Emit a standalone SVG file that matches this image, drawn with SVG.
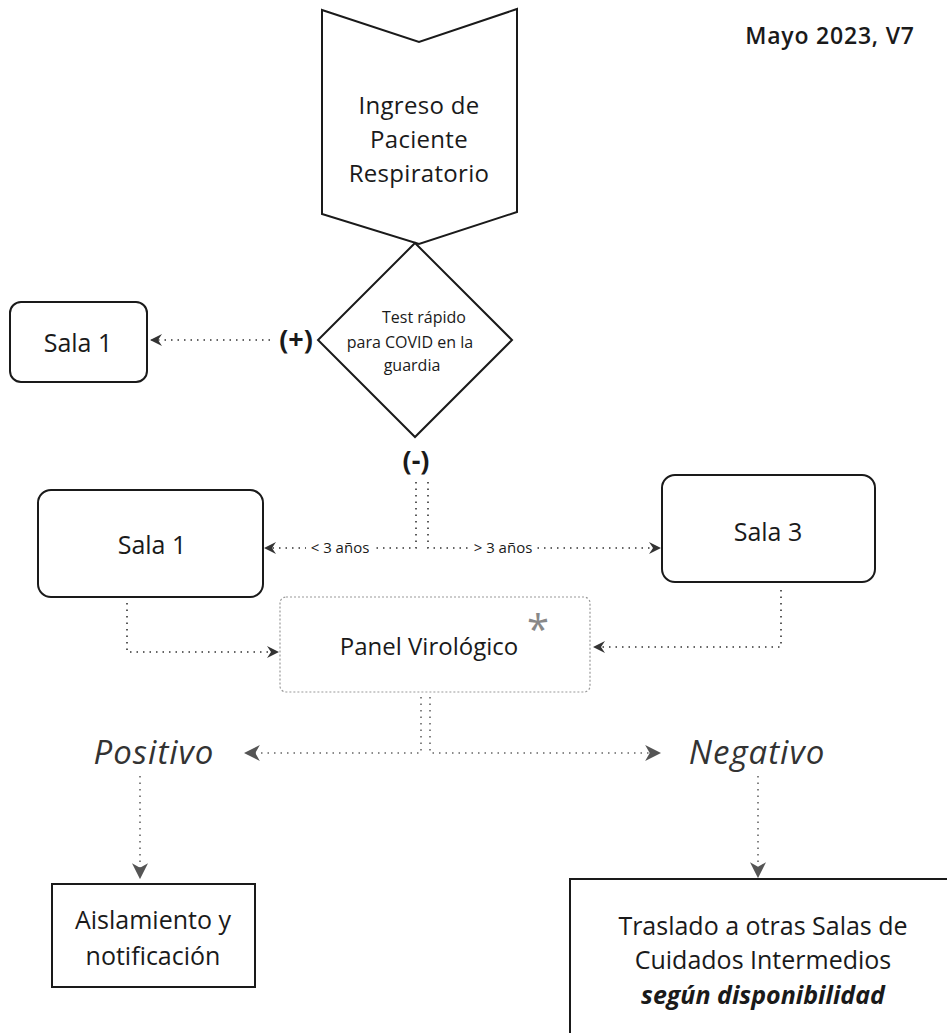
<svg xmlns="http://www.w3.org/2000/svg" width="947" height="1033" viewBox="0 0 947 1033">
<defs>
<style>
text{font-family:"Open Sans","Liberation Sans",sans-serif;fill:#1a1a1a;text-anchor:middle}
.shape{fill:#fff;stroke:#1a1a1a;stroke-width:2}
.panel{fill:#fff;stroke:#999;stroke-width:1.2;stroke-dasharray:2 2}
.dot{fill:none;stroke:#333;stroke-width:1.6;stroke-dasharray:1.5 5}
.dotg{fill:none;stroke:#666;stroke-width:1.6;stroke-dasharray:1.5 5}
.t24{font-size:24px}
.t25{font-size:25px}
.t23{font-size:25px}
.t16{font-size:16px}
.t14{font-size:15px}
.res{font-size:33px;font-style:italic;fill:#333;letter-spacing:1px}
.sign{font-size:27px;font-weight:bold}
</style>
<marker id="ah" viewBox="0 0 12 12" refX="11" refY="6" markerWidth="12" markerHeight="12" markerUnits="userSpaceOnUse" orient="auto">
<path d="M0,0 L12,6 L0,12 L4,6 Z" fill="#333"/>
</marker>
<marker id="ahg" viewBox="0 0 14 14" refX="13" refY="7" markerWidth="16" markerHeight="16" markerUnits="userSpaceOnUse" orient="auto">
<path d="M0,0 L14,7 L0,14 L4,7 Z" fill="#555"/>
</marker>
</defs>
<rect width="947" height="1033" fill="#fff"/>

<g id="version">
<text x="830" y="44" style="font-size:23px;font-weight:600;letter-spacing:0.8px">Mayo 2023, V7</text>
</g>

<g id="connectors">
<path class="dot" d="M270,340 H151" marker-end="url(#ah)"/>
<path class="dot" d="M416,482 V548 H265" marker-end="url(#ah)"/>
<path class="dot" d="M428,482 V548 H660" marker-end="url(#ah)"/>
<path class="dot" d="M127,603 V652 H278" marker-end="url(#ah)"/>
<path class="dot" d="M781,590 V647 H594" marker-end="url(#ah)"/>
<path class="dotg" d="M421,697 V753 H245" marker-end="url(#ahg)"/>
<path class="dotg" d="M430,697 V753 H660" marker-end="url(#ahg)"/>
<path class="dotg" d="M140,776 V878" marker-end="url(#ahg)"/>
<path class="dotg" d="M758,776 V877" marker-end="url(#ahg)"/>
<rect x="306" y="539" width="68" height="18" fill="#fff"/>
<text x="340" y="553" class="t14">&lt; 3 años</text>
<rect x="469" y="539" width="68" height="18" fill="#fff"/>
<text x="503" y="553" class="t14">&gt; 3  años</text>
</g>

<g id="ingreso">
<path class="shape" d="M322,10 L419,42 L517,9 L517,212 L419,244 L322,214 Z"/>
<text x="419" y="114" class="t24" style="letter-spacing:0.3px">Ingreso de</text>
<text x="419" y="148" class="t24" style="letter-spacing:0.3px">Paciente</text>
<text x="419" y="182" class="t24" style="letter-spacing:0.3px">Respiratorio</text>
</g>

<g id="test">
<path class="shape" d="M415,243 L512,340 L415,437 L318,340 Z"/>
<text x="424" y="323" class="t16">Test rápido</text>
<text x="410" y="348" class="t16">para COVID en la</text>
<text x="412" y="371" class="t16">guardia</text>
</g>

<g id="pos-label"><text x="296" y="349" class="sign">(+)</text></g>
<g id="neg-label"><text x="416" y="470" class="sign">(-)</text></g>

<g id="sala1-top">
<rect class="shape" x="10" y="302" width="137" height="80" rx="11"/>
<text x="78" y="352" class="t23">Sala 1</text>
</g>

<g id="sala1">
<rect class="shape" x="38" y="490" width="225" height="107" rx="13"/>
<text x="152" y="554" class="t23">Sala 1</text>
</g>

<g id="sala3">
<rect class="shape" x="662" y="475" width="213" height="107" rx="13"/>
<text x="768" y="541" class="t23">Sala 3</text>
</g>

<g id="panel">
<rect class="panel" x="280" y="597" width="310" height="95" rx="6"/>
<text x="429" y="655" style="font-size:24px">Panel Virológico</text>
<text x="538" y="644" style="font-size:40px;fill:#888">*</text>
</g>

<g id="positivo"><text x="154" y="764" class="res">Positivo</text></g>
<g id="negativo"><text x="757" y="764" class="res">Negativo</text></g>

<g id="aislamiento">
<rect class="shape" x="52" y="884" width="203" height="103"/>
<text x="153" y="929" class="t25">Aislamiento y</text>
<text x="153" y="965" class="t25">notificación</text>
</g>

<g id="traslado">
<rect class="shape" x="570" y="879" width="390" height="170"/>
<text x="763" y="935" class="t25">Traslado a otras Salas de</text>
<text x="763" y="969" class="t25">Cuidados Intermedios</text>
<text x="763" y="1004" class="t25" style="font-style:italic;font-weight:bold">según disponibilidad</text>
</g>
</svg>
